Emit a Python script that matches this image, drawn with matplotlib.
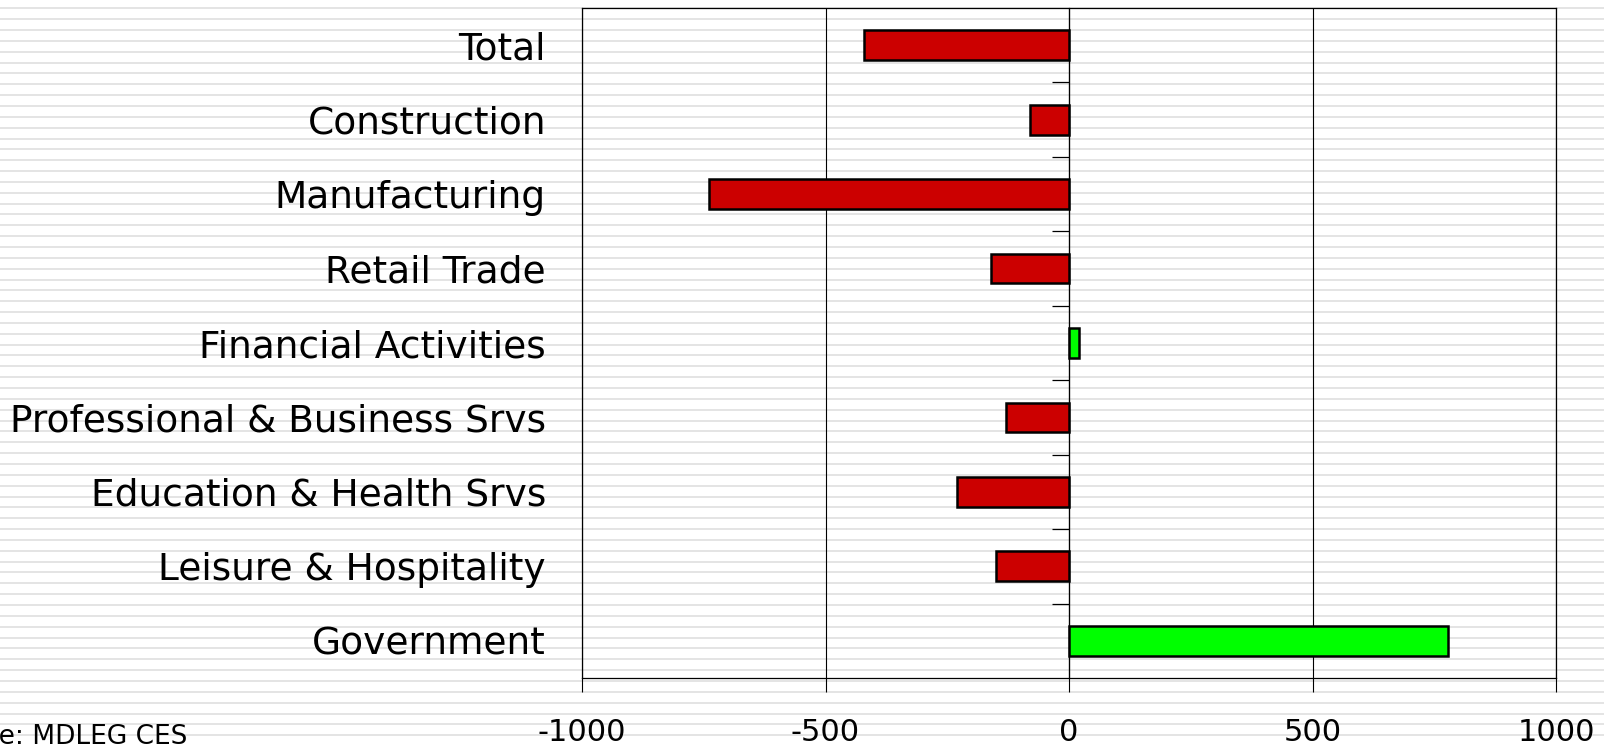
import numpy as np
import matplotlib
matplotlib.use("Agg")
import matplotlib.pyplot as plt

plt.rcParams["axes.unicode_minus"] = False

# change in employment by sector
sectors = ["Total", "Construction", "Manufacturing", "Retail Trade",
           "Financial Activities", "Professional & Business Srvs",
           "Education & Health Srvs", "Leisure & Hospitality", "Government"]
changes = [-421, -80, -740, -160, 21, -130, -231, -149, 779]
source = "Source: MDLEG CES"

W, H = 1604, 745
fig = plt.figure(figsize=(W / 100, H / 100), dpi=100)
fig.patch.set_facecolor("white")

# striped background
bg = fig.add_axes([0, 0, 1, 1], zorder=-1)
bg.set_xlim(0, 1)
bg.set_ylim(H, 0)
for yy in np.arange(8.3, H, 10.85):
    bg.axhline(yy, color="#e2e2e2", lw=1.3)
bg.axis("off")

ax = fig.add_axes([582 / W, 1 - 678 / H, (1556 - 582) / W, (678 - 8) / H])
ax.patch.set_alpha(0)

y = np.arange(len(sectors))
colors = ["#00ff00" if v > 0 else "#cc0000" for v in changes]
ax.barh(y, changes, height=0.4, color=colors, edgecolor="black", linewidth=1.8, zorder=3)

ax.set_xlim(-1000, 1000)
ax.set_ylim(len(sectors) - 0.5, -0.5)
ax.set_xticks([-1000, -500, 0, 500, 1000])
ax.set_yticks(y)
ax.set_yticklabels(sectors)
ax.tick_params(axis="y", length=0, pad=26, labelsize=27)
ax.tick_params(axis="x", direction="out", length=10, width=0.8, pad=19, labelsize=22)
ax.xaxis.grid(True, color="black", lw=0.8)
for s in ax.spines.values():
    s.set_linewidth(0.9)

# zero axis with category separators
zero = ax.secondary_yaxis(0.5)
zero.set_yticks(np.arange(0.5, len(sectors) - 1, 1.0))
zero.set_yticklabels([])
zero.tick_params(direction="in", length=12, width=0.9)
zero.spines["left"].set_linewidth(0.9)
zero.spines["right"].set_linewidth(0.9)

fig.text(187 / W, 1 / H, source, ha="right", va="baseline", fontsize=19)

fig.savefig("out.png", dpi=100)
